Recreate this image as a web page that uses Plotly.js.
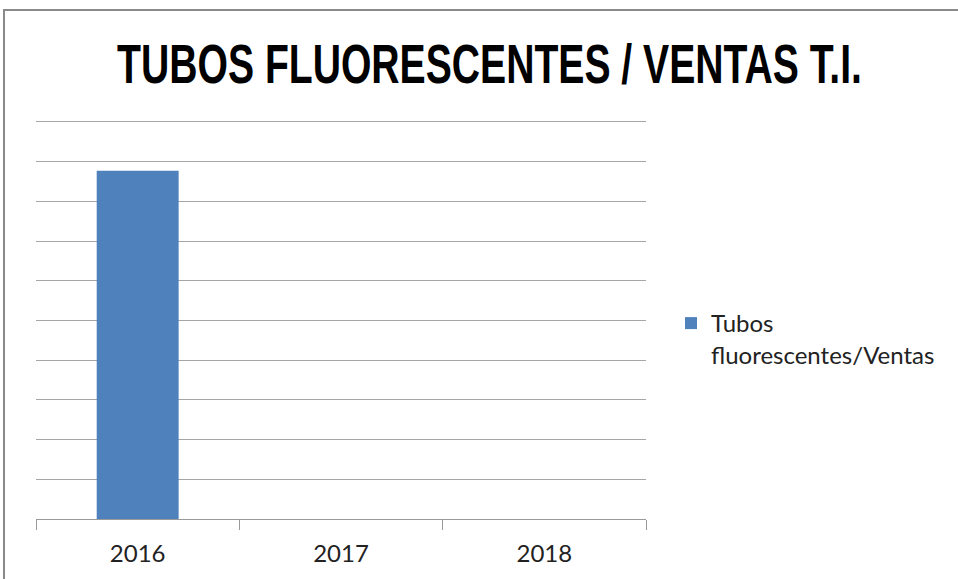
<!DOCTYPE html>
<html>
<head>
<meta charset="utf-8">
<script src="https://cdn.plot.ly/plotly-3.0.1.min.js"></script>
<style>html,body{margin:0;padding:0;background:#fff;}#chart{width:958px;height:579px;}</style>
</head>
<body>
<div id="chart"></div>
<script>
// Data
const categories = ["2016", "2017", "2018"];
const values = [8.77, null, null];
const seriesName = "Tubos<br>fluorescentes/Ventas";
const chartTitle = "TUBOS FLUORESCENTES / VENTAS T.I.";

const W = 958, H = 579;
const L = 36, R = 312, T = 118, B = 60;
const pw = W - L - R, ph = H - T - B;
const px = v => (v - L) / pw;
const py = v => (H - B - v) / ph;

const trace = {
  type: "bar",
  x: categories,
  y: values,
  name: seriesName,
  marker: {color: "#4f81bd"},
  showlegend: true
};

const layout = {
  width: W, height: H,
  margin: {l: L, r: R, t: T, b: B, pad: 0},
  paper_bgcolor: "#fff",
  plot_bgcolor: "#fff",
  bargap: 0.597,
  title: {
    text: "<b>" + chartTitle + "</b>",
    font: {family: "Liberation Sans, sans-serif", size: 55, color: "#000"},
    xref: "paper", x: px(489.5), xanchor: "center",
    yref: "container", y: 1 - 64 / H, yanchor: "middle"
  },
  xaxis: {
    type: "category",
    showline: true, linecolor: "#9a9a9a", linewidth: 1,
    ticks: "outside", tickson: "boundaries", ticklen: 10, tickcolor: "#9a9a9a",
    showgrid: false,
    ticklabelstandoff: 13,
    tickfont: {family: "Lato, sans-serif", size: 24, color: "#222"}
  },
  yaxis: {
    range: [0, 10.1], dtick: 1,
    showticklabels: false, ticks: "",
    showgrid: true, gridcolor: "#a6a6a6", gridwidth: 1,
    zeroline: false, showline: false
  },
  legend: {
    x: px(671), xanchor: "left",
    y: py(301), yanchor: "top",
    valign: "top",
    font: {family: "Lato, sans-serif", size: 24, color: "#222"},
    bgcolor: "rgba(0,0,0,0)"
  },
  shapes: [
    {type: "line", xref: "paper", yref: "paper", x0: px(4), x1: px(4), y0: py(10), y1: py(600), line: {color: "#8a8a8a", width: 2}},
    {type: "line", xref: "paper", yref: "paper", x0: px(3), x1: px(970), y0: py(10), y1: py(10), line: {color: "#8a8a8a", width: 2}}
  ]
};

Plotly.newPlot("chart", [trace], layout, {displayModeBar: false, staticPlot: true}).then(gd => {
  // Condense the title horizontally to mimic the narrow bold face of the original
  const t = gd.querySelector(".gtitle");
  if (t) {
    const bb = t.getBBox();
    const target = 745;
    const sx = Math.min(1, target / bb.width);
    const cx = bb.x + bb.width / 2;
    t.setAttribute("transform", `translate(${cx},0) scale(${sx},1) translate(${-cx},0)`);
  }
});
</script>
</body>
</html>
